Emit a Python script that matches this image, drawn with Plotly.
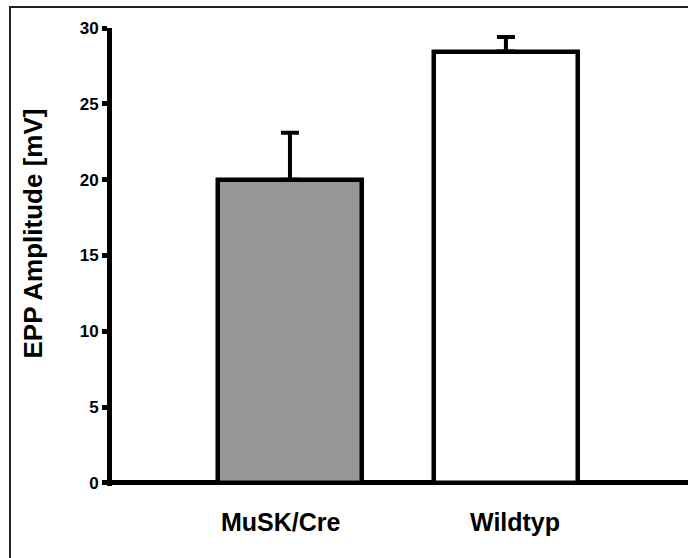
import plotly.graph_objects as go

categories = ["MuSK/Cre", "Wildtyp"]
means = [20.0, 28.45]
sem = [3.1, 0.95]
fills = ["#969696", "#ffffff"]
y_ticks = [0, 5, 10, 15, 20, 25, 30]
y_title = "EPP Amplitude [mV]"
label_shift = [-9, 9]

W, H = 688, 558
L, R, T, B = 112, 0, 28, 72
pw, ph = W - L - R, H - T - B

fig = go.Figure()
fig.add_trace(go.Bar(
    x=[0, 1], y=means, width=0.667,
    marker=dict(color=fills, line=dict(color="black", width=4.5)),
    error_y=dict(type="data", array=sem, arrayminus=[0, 0], symmetric=False,
                 color="black", thickness=4, width=9),
    showlegend=False,
))

font = "Liberation Sans, Arial, sans-serif"
annotations = [dict(text=y_title, textangle=-90, showarrow=False,
                    xref="paper", yref="paper",
                    x=(33 - L) / pw, y=(H - B - 233.5) / ph,
                    xanchor="center", yanchor="middle",
                    font=dict(family=font, size=26, color="black", weight="bold"))]
for i, (c, s) in enumerate(zip(categories, label_shift)):
    annotations.append(dict(text=c, showarrow=False, xref="x", yref="paper",
                            x=i, y=(H - B - 522) / ph, xshift=s,
                            xanchor="center", yanchor="middle",
                            font=dict(family=font, size=25, color="black", weight="bold")))

fig.update_layout(
    width=W, height=H,
    margin=dict(l=L, r=R, t=T, b=B, autoexpand=False),
    plot_bgcolor="white", paper_bgcolor="white",
    bargap=0,
    xaxis=dict(
        range=[-0.824, 1.843], tickvals=[0, 1], showticklabels=False,
        showgrid=False, zeroline=False, showline=False, ticks="",
    ),
    yaxis=dict(
        range=[-0.2, 30], tickvals=y_ticks, ticktext=[str(v) for v in y_ticks],
        showgrid=False, zeroline=True, zerolinecolor="black", zerolinewidth=5,
        showline=True, linecolor="black", linewidth=5,
        ticks="outside", ticklen=5, tickwidth=5, tickcolor="black",
        tickfont=dict(family=font, size=17, color="black", weight="bold"),
    ),
    annotations=annotations,
    shapes=[dict(type="rect", xref="paper", yref="paper",
                 x0=(10 - L) / pw, x1=1.2, y0=-0.5, y1=(H - B - 7) / ph,
                 line=dict(color="#222222", width=2), layer="below")],
)

fig.write_html("out.html")
